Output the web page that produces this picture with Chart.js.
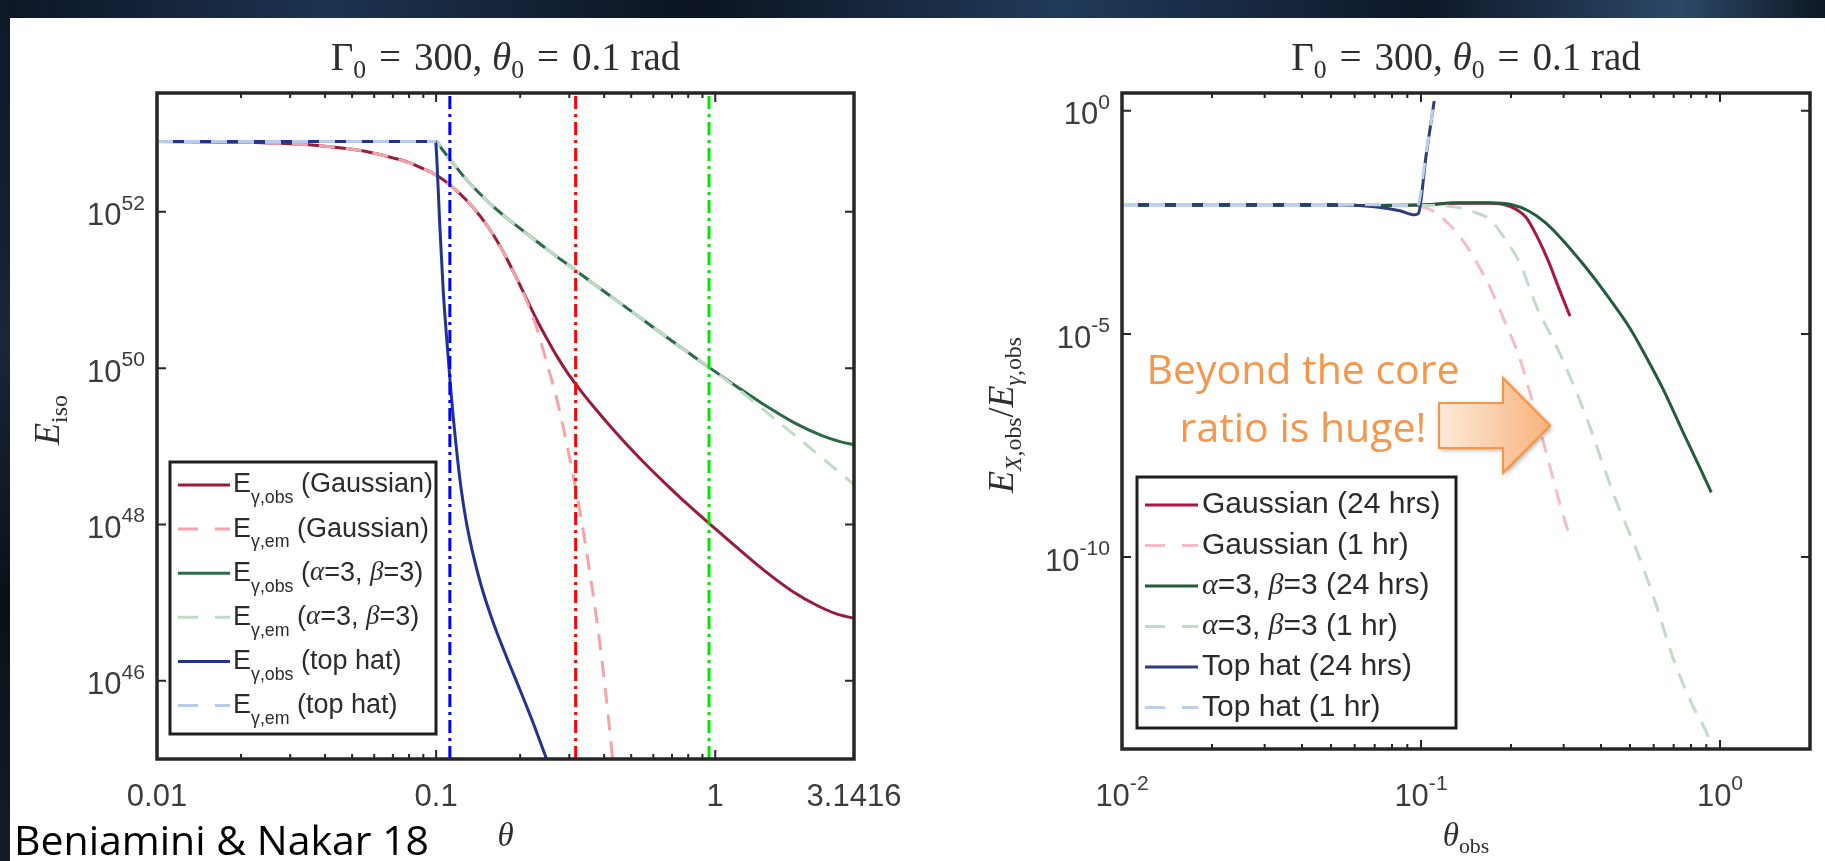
<!DOCTYPE html>
<html>
<head>
<meta charset="utf-8">
<title>Beniamini & Nakar 18</title>
<script src="https://cdn.jsdelivr.net/npm/chart.js@4.4.1/dist/chart.umd.min.js"></script>
<style>
  html, body { margin: 0; padding: 0; }
  body { width: 1825px; height: 861px; position: relative; overflow: hidden; background: #ffffff; }
  .band { position: absolute; z-index: 0; }
  #topBand { left: 0; top: 0; width: 1825px; height: 18px;
    background: linear-gradient(90deg, #0c1626 0%, #1d3350 18%, #0b1420 38%, #213a5a 58%, #0d1828 78%, #2c4868 92%, #0e1824 100%); }
  #leftBand { left: 0; top: 0; width: 10px; height: 861px;
    background: linear-gradient(180deg, #0e1826, #1a2535 40%, #0b1018 70%, #151c26); }
  canvas { position: absolute; left: 0; top: 0; z-index: 1; }
</style>
</head>
<body>
<div id="topBand" class="band"></div>
<div id="leftBand" class="band"></div>
<canvas id="leftChart" width="1825" height="861"></canvas>
<canvas id="rightChart" width="1825" height="861"></canvas>
<script>
// ---- left panel: E_iso vs theta (y values are log10 E) ----
const thetaGaussObs = [0.01,0.02,0.03,0.04,0.05,0.06,0.07,0.08,0.09,0.1,0.115,0.13,0.145,0.16,0.175,0.19,0.21,0.23,0.25,0.27,0.297,0.33,0.37,0.42,0.48,0.56,0.66,0.8,0.975,1.2,1.5,1.9,2.3,2.7,3.1416];
const logEGaussObs  = [52.90,52.89,52.87,52.84,52.80,52.75,52.69,52.63,52.55,52.47,52.31,52.13,51.93,51.71,51.47,51.22,50.90,50.61,50.37,50.16,49.93,49.71,49.49,49.26,49.03,48.78,48.53,48.25,47.98,47.70,47.41,47.14,46.97,46.86,46.80];
const thetaGaussEm  = [0.01,0.02,0.03,0.04,0.05,0.06,0.07,0.08,0.09,0.1,0.115,0.13,0.145,0.16,0.175,0.19,0.21,0.23,0.25,0.27,0.297,0.33,0.36,0.39,0.415,0.44];
const logEGaussEm   = [52.90,52.89,52.87,52.84,52.80,52.75,52.69,52.63,52.55,52.47,52.31,52.13,51.93,51.71,51.47,51.22,50.88,50.50,50.05,49.62,48.95,48.10,47.25,46.35,45.50,44.60];
const thetaAlphaObs = [0.01,0.03,0.06,0.09,0.1,0.105,0.114,0.125,0.14,0.16,0.185,0.215,0.25,0.3162,0.4,0.5,0.65,0.8,0.95,1.2,1.5,1.9,2.4,2.8,3.1416];
const logEAlphaObs  = [52.90,52.90,52.90,52.90,52.90,52.80,52.64,52.46,52.27,52.07,51.88,51.70,51.52,51.25,50.98,50.73,50.43,50.20,50.01,49.76,49.53,49.31,49.14,49.06,49.02];
const thetaAlphaEm  = [0.01,0.03,0.06,0.09,0.1,0.105,0.114,0.125,0.14,0.16,0.185,0.215,0.25,0.3162,0.4,0.5,0.65,0.8,0.95,1.2,1.5,1.9,2.4,2.8,3.1416];
const logEAlphaEm   = [52.90,52.90,52.90,52.90,52.90,52.80,52.64,52.46,52.27,52.07,51.88,51.70,51.52,51.25,50.98,50.73,50.43,50.20,50.01,49.74,49.46,49.16,48.86,48.66,48.51];
const thetaTopObs   = [0.01,0.05,0.0995,0.1005,0.103,0.106,0.109,0.113,0.118,0.123,0.128,0.135,0.145,0.16,0.18,0.2,0.225,0.25,0.27];
const logETopObs    = [52.90,52.90,52.90,52.70,51.85,51.00,50.40,49.70,49.00,48.45,48.05,47.65,47.22,46.75,46.28,45.88,45.42,44.98,44.70];
const thetaTopEm    = [0.01,0.05,0.1];
const logETopEm     = [52.90,52.90,52.90];
const thetaMarkers  = [0.112, 0.3162, 0.95];
const markerColors  = ['#0000ff', '#ff0000', '#00e600'];
const leftXTicks = [0.01, 0.1, 1, 3.1416];
const leftXTickLabels = ['0.01', '0.1', '1', '3.1416'];
const leftYTickExp = [46, 48, 50, 52];
const leftYRangeExp = [45, 53.52];

// ---- right panel: E_X,obs / E_gamma,obs vs theta_obs (log10 ratio) ----
const thetaGauss24 = [0.01,0.05,0.1,0.13,0.17,0.2,0.224,0.245,0.268,0.29,0.315];
const logRGauss24  = [-2.12,-2.12,-2.11,-2.07,-2.07,-2.15,-2.38,-2.83,-3.40,-4.00,-4.60];
const thetaGauss1  = [0.01,0.05,0.09,0.1,0.108,0.12,0.136,0.152,0.17,0.19,0.214,0.24,0.268,0.29,0.315];
const logRGauss1   = [-2.12,-2.12,-2.13,-2.15,-2.22,-2.45,-2.85,-3.35,-3.95,-4.70,-5.55,-6.70,-7.90,-8.75,-9.57];
const thetaAlpha24 = [0.01,0.05,0.1,0.13,0.17,0.2,0.23,0.26,0.3,0.35,0.4,0.44,0.5,0.57,0.65,0.75,0.85,0.935];
const logRAlpha24  = [-2.12,-2.12,-2.11,-2.06,-2.06,-2.10,-2.25,-2.50,-2.92,-3.45,-3.95,-4.33,-4.87,-5.55,-6.28,-7.18,-7.95,-8.55];
const thetaAlpha1  = [0.01,0.05,0.1,0.12,0.136,0.155,0.17,0.19,0.214,0.244,0.285,0.322,0.359,0.4,0.45,0.53,0.6,0.7,0.8,0.91,0.96];
const logRAlpha1   = [-2.12,-2.12,-2.12,-2.13,-2.18,-2.30,-2.43,-2.85,-3.41,-4.40,-5.30,-6.11,-6.90,-7.80,-8.75,-9.90,-10.90,-12.30,-13.25,-14.00,-14.50];
const thetaTop24   = [0.01,0.05,0.07,0.085,0.095,0.098,0.104,0.1107];
const logRTop24    = [-2.10,-2.10,-2.15,-2.24,-2.33,-2.30,-1.00,0.22];
const thetaTop1    = [0.01,0.05,0.09,0.097,0.104,0.1107];
const logRTop1     = [-2.10,-2.10,-2.11,-2.15,-0.95,0.22];
const rightXTickExp = [-2, -1, 0];
const rightYTickExp = [0, -5, -10];
const rightXRange = [0.01, 2];
const rightYRangeExp = [-14.3, 0.40];

const minorTicks = [-2, -1].flatMap(d => [2, 3, 4, 5, 6, 7, 8, 9].map(m => m * Math.pow(10, d)));

function pts(xs, logs) {
  return xs.map((x, i) => ({ x: x, y: Math.pow(10, logs[i]) }));
}

function curve(legendText, xs, logs, color, dash, idx) {
  return {
    legendText: legendText,
    data: pts(xs, logs),
    borderColor: color,
    borderWidth: 3,
    borderDash: dash ? [16, 11] : [],
    cubicInterpolationMode: 'monotone',
    pointRadius: 0,
    order: -idx
  };
}

// small rich text helper: _{sub}, ^{sup}, *italic*
function richRuns(str, size, subDy) {
  const runs = [];
  str.split(/(_\{[^}]*\}|\^\{[^}]*\})/).forEach(part => {
    if (!part) return;
    let s = size, dy = 0, t = part;
    if (part.startsWith('_{')) { s = size * 0.66; dy = size * subDy; t = part.slice(2, -1); }
    else if (part.startsWith('^{')) { s = size * 0.68; dy = -size * 0.42; t = part.slice(2, -1); }
    t.split(/(\*[^*]+\*)/).forEach(q => {
      if (!q) return;
      const it = q.length > 2 && q[0] === '*' && q[q.length - 1] === '*';
      runs.push({ t: it ? q.slice(1, -1) : q, size: s, dy: dy, it: it });
    });
  });
  return runs;
}

function drawRich(ctx, str, x, y, opt) {
  const runs = richRuns(str, opt.size, opt.subDy || 0.35);
  const fontOf = r => (r.it ? 'italic ' : '') + r.size.toFixed(1) + 'px "' +
    (r.it && opt.italicFamily ? opt.italicFamily : opt.family) + '"';
  let w = 0;
  runs.forEach(r => { ctx.font = fontOf(r); r.w = ctx.measureText(r.t).width; w += r.w; });
  let cx = opt.align === 'center' ? x - w / 2 : (opt.align === 'right' ? x - w : x);
  ctx.fillStyle = opt.color || '#333';
  ctx.textAlign = 'left';
  ctx.textBaseline = 'middle';
  runs.forEach(r => { ctx.font = fontOf(r); ctx.fillText(r.t, cx, y + r.dy); cx += r.w; });
  return w;
}

const matlabFrame = {
  id: 'matlabFrame',
  afterDraw(chart, args, o) {
    const ctx = chart.ctx, a = chart.chartArea, sx = chart.scales.x, sy = chart.scales.y;
    ctx.save();
    // inward ticks on all four sides
    ctx.strokeStyle = '#262626';
    ctx.lineWidth = 2;
    ctx.beginPath();
    minorTicks.forEach(v => {
      const p = sx.getPixelForValue(v);
      ctx.moveTo(p, a.bottom); ctx.lineTo(p, a.bottom - 5);
      ctx.moveTo(p, a.top); ctx.lineTo(p, a.top + 5);
    });
    o.xTicks.forEach(v => {
      const p = sx.getPixelForValue(v);
      ctx.moveTo(p, a.bottom); ctx.lineTo(p, a.bottom - 9);
      ctx.moveTo(p, a.top); ctx.lineTo(p, a.top + 9);
    });
    o.yTicks.forEach(v => {
      const p = sy.getPixelForValue(v);
      ctx.moveTo(a.left, p); ctx.lineTo(a.left + 9, p);
      ctx.moveTo(a.right, p); ctx.lineTo(a.right - 9, p);
    });
    ctx.stroke();
    ctx.lineWidth = 3.5;
    ctx.strokeRect(a.left, a.top, a.right - a.left, a.bottom - a.top);

    // tick labels
    const lab = { family: 'Liberation Sans', size: 31, color: '#3c3c3c' };
    o.xTicks.forEach((v, i) => drawRich(ctx, o.xLabels[i], sx.getPixelForValue(v), a.bottom + o.xLabelDy, Object.assign({ align: 'center' }, lab)));
    o.yTicks.forEach((v, i) => drawRich(ctx, o.yLabels[i], a.left - 12, sy.getPixelForValue(v) + 5, Object.assign({ align: 'right' }, lab)));

    // title and axis titles
    const serif = { family: 'Liberation Serif', italicFamily: 'Liberation Serif', color: '#2e2e2e' };
    const cxm = (a.left + a.right) / 2;
    drawRich(ctx, o.title, cxm, 60, Object.assign({ size: 39, align: 'center', subDy: 0.3 }, serif));
    drawRich(ctx, o.xTitle, cxm, 837, Object.assign({ size: 33, align: 'center', subDy: 0.3 }, serif));
    ctx.save();
    ctx.translate(o.yTitleX, (a.top + a.bottom) / 2 - 6);
    ctx.rotate(-Math.PI / 2);
    drawRich(ctx, o.yTitle, 0, 0, Object.assign({ size: 36, align: 'center', subDy: 0.3 }, serif));
    ctx.restore();

    // legend box
    const L = o.legend;
    ctx.fillStyle = '#ffffff';
    ctx.fillRect(L.x, L.y, L.w, L.h);
    ctx.lineWidth = 3;
    ctx.strokeStyle = '#1e1e1e';
    ctx.strokeRect(L.x, L.y, L.w, L.h);
    chart.data.datasets.filter(d => d.legendText).forEach((d, i) => {
      const y = L.row0 + i * L.rowDy;
      ctx.save();
      ctx.strokeStyle = d.borderColor;
      ctx.lineWidth = d.borderWidth;
      ctx.setLineDash(d.borderDash.length ? [20, 17] : []);
      ctx.beginPath(); ctx.moveTo(L.lineX0, y); ctx.lineTo(L.lineX1, y); ctx.stroke();
      ctx.restore();
      drawRich(ctx, d.legendText, L.textX, y, { family: 'Liberation Sans', italicFamily: 'Liberation Serif',
        size: L.size, color: '#2b2b2b', align: 'left', subDy: 0.5 });
    });

    // free notes
    (o.notes || []).forEach(n => {
      ctx.font = n.size + 'px "' + n.family + '"';
      ctx.fillStyle = n.color;
      ctx.textAlign = n.align;
      ctx.textBaseline = 'alphabetic';
      ctx.fillText(n.text, n.x, n.y);
    });
    if (o.arrow) {
      const r = o.arrow;
      ctx.save();
      ctx.shadowColor = 'rgba(0,0,0,0.35)';
      ctx.shadowBlur = 5; ctx.shadowOffsetX = 2; ctx.shadowOffsetY = 2;
      const g = ctx.createLinearGradient(r.x0, 0, r.x2, 0);
      g.addColorStop(0, '#fdeadb'); g.addColorStop(1, '#f9b27a');
      ctx.fillStyle = g;
      ctx.beginPath();
      ctx.moveTo(r.x0, r.bodyTop); ctx.lineTo(r.x1, r.bodyTop); ctx.lineTo(r.x1, r.headTop);
      ctx.lineTo(r.x2, (r.headTop + r.headBottom) / 2);
      ctx.lineTo(r.x1, r.headBottom); ctx.lineTo(r.x1, r.bodyBottom); ctx.lineTo(r.x0, r.bodyBottom);
      ctx.closePath();
      ctx.fill();
      ctx.shadowColor = 'transparent';
      ctx.strokeStyle = '#f79646'; ctx.lineWidth = 2.2;
      ctx.stroke();
      ctx.restore();
    }
    ctx.restore();
  }
};

function baseOptions(pad, xr, yr, frame) {
  return {
    responsive: false,
    animation: false,
    layout: { padding: pad },
    plugins: { legend: { display: false }, tooltip: { enabled: false }, matlabFrame: frame },
    scales: {
      x: { type: 'logarithmic', min: xr[0], max: xr[1], display: false },
      y: { type: 'logarithmic', min: Math.pow(10, yr[0]), max: Math.pow(10, yr[1]), display: false }
    }
  };
}

function markerLine(t, color) {
  return {
    data: [{ x: t, y: Math.pow(10, leftYRangeExp[0]) }, { x: t, y: Math.pow(10, leftYRangeExp[1]) }],
    borderColor: color, borderWidth: 3, borderDash: [13, 5, 3, 5],
    tension: 0, pointRadius: 0, order: -20
  };
}

const titleText = '\u0393_{0}\u2004=\u2004300, *\u03b8*_{0}\u2004=\u20040.1 rad';

// ---- left chart ----
new Chart(document.getElementById('leftChart'), {
  type: 'line',
  data: {
    datasets: [
      curve('E_{\u03b3,obs} (Gaussian)', thetaGaussObs, logEGaussObs, '#981b3a', false, 0),
      curve('E_{\u03b3,em} (Gaussian)', thetaGaussEm, logEGaussEm, '#f4a3a8', true, 1),
      curve('E_{\u03b3,obs} (*\u03b1*=3, *\u03b2*=3)', thetaAlphaObs, logEAlphaObs, '#2b6a47', false, 2),
      curve('E_{\u03b3,em} (*\u03b1*=3, *\u03b2*=3)', thetaAlphaEm, logEAlphaEm, '#bfdcc4', true, 3),
      curve('E_{\u03b3,obs} (top hat)', thetaTopObs, logETopObs, '#22338e', false, 4),
      curve('E_{\u03b3,em} (top hat)', thetaTopEm, logETopEm, '#b5cdea', true, 5)
    ].concat(thetaMarkers.map((t, i) => markerLine(t, markerColors[i])))
  },
  options: baseOptions({ left: 157, top: 93, right: 1825 - 854, bottom: 861 - 759 },
    [0.01, 3.1416], leftYRangeExp, {
      xTicks: leftXTicks,
      xLabels: leftXTickLabels,
      xLabelDy: 38,
      yTicks: leftYTickExp.map(e => Math.pow(10, e)),
      yLabels: leftYTickExp.map(e => '10^{' + e + '}'),
      title: titleText,
      xTitle: '*\u03b8*',
      yTitle: '*E*_{iso}',
      yTitleX: 50,
      legend: { x: 170, y: 462, w: 266, h: 272, row0: 485, rowDy: 44.1, lineX0: 178, lineX1: 230, textX: 233, size: 27 },
      notes: [{ text: 'Beniamini & Nakar 18', x: 14, y: 855, size: 41, family: 'Open Sans', color: '#000000', align: 'left' }]
    }),
  plugins: [matlabFrame]
});

// ---- right chart ----
new Chart(document.getElementById('rightChart'), {
  type: 'line',
  data: {
    datasets: [
      curve('Gaussian (24 hrs)', thetaGauss24, logRGauss24, '#a8183e', false, 0),
      curve('Gaussian (1 hr)', thetaGauss1, logRGauss1, '#f5bcc6', true, 1),
      curve('*\u03b1*=3, *\u03b2*=3 (24 hrs)', thetaAlpha24, logRAlpha24, '#235c3a', false, 2),
      curve('*\u03b1*=3, *\u03b2*=3 (1 hr)', thetaAlpha1, logRAlpha1, '#c0dbc8', true, 3),
      curve('Top hat (24 hrs)', thetaTop24, logRTop24, '#2e3c78', false, 4),
      curve('Top hat (1 hr)', thetaTop1, logRTop1, '#bcd0ec', true, 5)
    ]
  },
  options: baseOptions({ left: 1122, top: 93, right: 1825 - 1810, bottom: 861 - 749 },
    rightXRange, rightYRangeExp, {
      xTicks: rightXTickExp.map(e => Math.pow(10, e)),
      xLabels: rightXTickExp.map(e => '10^{' + e + '}'),
      xLabelDy: 48,
      yTicks: rightYTickExp.map(e => Math.pow(10, e)),
      yLabels: rightYTickExp.map(e => '10^{' + e + '}'),
      title: titleText,
      xTitle: '*\u03b8*_{obs}',
      yTitle: '*E*_{*X*,obs}/*E*_{*\u03b3*,obs}',
      yTitleX: 1004,
      legend: { x: 1137, y: 477, w: 319, h: 251, row0: 505, rowDy: 40.5, lineX0: 1145, lineX1: 1198, textX: 1202, size: 30 },
      notes: [
        { text: 'Beyond the core', x: 1303, y: 384, size: 41, family: 'Open Sans', color: '#f5964a', align: 'center' },
        { text: 'ratio is huge!', x: 1303, y: 442, size: 41, family: 'Open Sans', color: '#f5964a', align: 'center' }
      ],
      arrow: { x0: 1439, x1: 1503, x2: 1550, bodyTop: 403, bodyBottom: 448, headTop: 378, headBottom: 473 }
    }),
  plugins: [matlabFrame]
});
</script>
</body>
</html>
